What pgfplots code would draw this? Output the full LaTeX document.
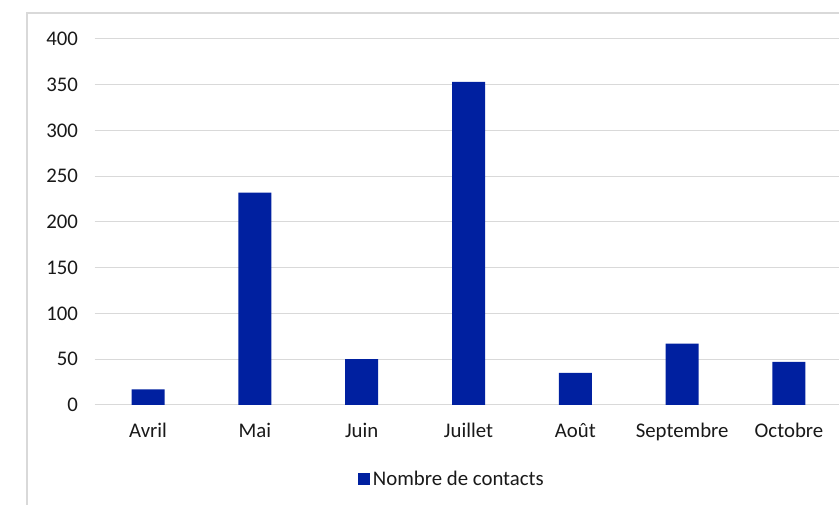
\documentclass[border=0pt]{standalone}
\usepackage{pgfplots}
\pgfplotsset{compat=1.18}
\usepackage{fontspec}
\setmainfont{Carlito}
\definecolor{barblue}{RGB}{0,32,160}
\definecolor{gridgray}{RGB}{217,217,217}
\begin{document}
\begin{tikzpicture}[x=0.75pt,y=0.75pt]
\path[use as bounding box] (0,0) rectangle (839,505);
\clip (0,0) rectangle (839,505);
\draw[gridgray, line width=0.9pt] (27,-5) -- (27,492) -- (845,492);
\begin{axis}[
  at={(70.95pt,75pt)}, anchor=south west,
  scale only axis, width=560.85pt, height=274.5pt,
  xmin=-0.5, xmax=6.5, ymin=0, ymax=400,
  axis line style={draw=none},
  major tick length=0pt,
  ytick={0,50,...,400},
  ymajorgrids, grid style={gridgray, line width=0.75pt},
  xtick={0,1,2,3,4,5,6},
  xticklabels={Avril,Mai,Juin,Juillet,Août,Septembre,Octobre},
  tick label style={font=\fontsize{15.6}{18}\selectfont, text=black!90},
  /pgf/number format/assume math mode=true,
  yticklabel style={xshift=-9pt},
  xticklabel style={yshift=-10pt},
  clip=false,
  legend style={at={(0.478,-0.202)}, anchor=center, draw=none, fill=none,
    font=\fontsize{15.6}{18}\selectfont, text=black!90,
    legend cell align=left},
  legend image code/.code={\fill[barblue] (0pt,-4.7pt) rectangle (9.5pt,4.7pt);},
]
\addplot[ybar, bar width=24.75pt, fill=barblue, draw=none]
  coordinates {(0,17) (1,232) (2,50) (3,353) (4,35) (5,67) (6,47)};
\addlegendentry{Nombre de contacts}
\end{axis}
\end{tikzpicture}
\end{document}
